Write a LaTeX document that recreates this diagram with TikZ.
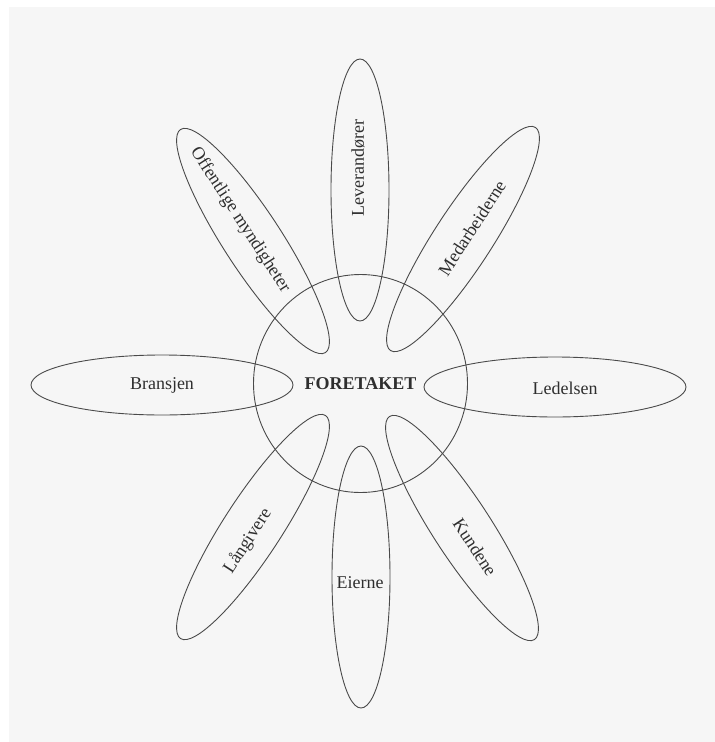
\documentclass[tikz,border=0pt]{standalone}
\usepackage{fontspec}
\setmainfont{Liberation Serif}
\usetikzlibrary{shapes.geometric}
\definecolor{paper}{HTML}{F6F6F6}
\definecolor{ink}{HTML}{4A4A4A}
\definecolor{txt}{HTML}{2E2E2E}

\begin{document}
\begin{tikzpicture}[
    x=1pt, y=-1pt,
    petal/.style={draw=ink, line width=0.9pt, ellipse, minimum width=262pt, minimum height=58pt, inner sep=0pt},
    dpetal/.style={petal, minimum width=266pt},
    lbl/.style={text=txt, font=\fontsize{18}{20}\selectfont, inner sep=1pt},
    core/.style={draw=ink, line width=0.9pt, ellipse, minimum width=214pt, minimum height=218pt, inner sep=0pt}
]
\useasboundingbox (0,0) rectangle (715,742);
\fill[white] (0,0) rectangle (715,742);
\fill[paper] (9,7) rectangle (715,742);

% the firm in the middle
\node[core, text=txt, font=\fontsize{18}{20}\selectfont\bfseries] (firm) at (360.5,383.5) {FORETAKET};

% straight petals
\node[petal, rotate=90] (lev) at (360,190) {};
\node[petal, rotate=90] (eie) at (361,577) {};
\node[petal, minimum height=60pt] (bra) at (162,385) {};
\node[petal, minimum height=60pt] (led) at (555,387) {};

% diagonal petals
\node[dpetal, rotate=-57] (off) at (253,241) {};
\node[dpetal, rotate=57] (med) at (463,239) {};
\node[dpetal, rotate=57] (lan) at (253,527) {};
\node[dpetal, rotate=-57] (kun) at (462,528) {};

% labels
\node[lbl, rotate=90] (levT) at (358,168) {Leverandører};
\node[lbl] (eieT) at (360,583) {Eierne};
\node[lbl] (braT) at (162,385) {Bransjen};
\node[lbl] (ledT) at (565,388) {Ledelsen};
\node[lbl, rotate=-57] (offT) at (240,220) {Offentlige myndigheter};
\node[lbl, rotate=57] (medT) at (472,228) {Medarbeiderne};
\node[lbl, rotate=57] (lanT) at (248,541) {Långivere};
\node[lbl, rotate=-57] (kunT) at (475,547) {Kundene};
\end{tikzpicture}
\end{document}
